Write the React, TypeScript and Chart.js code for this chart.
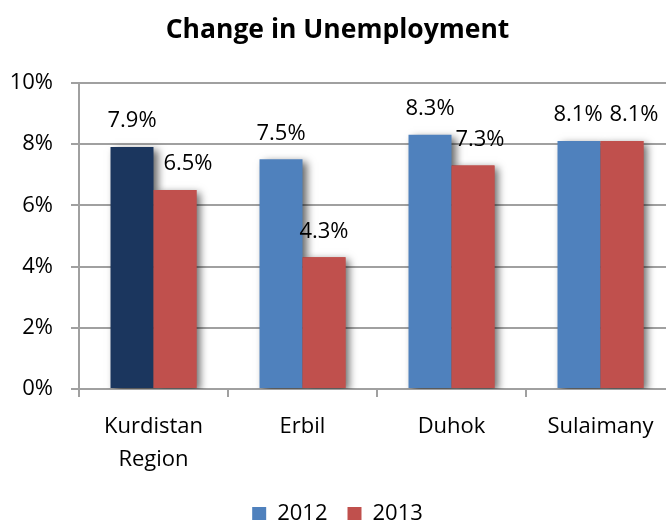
import React, { useEffect, useRef } from "react";
import { Chart, registerables } from "chart.js";

Chart.register(...registerables);

const categories: (string | string[])[] = [["Kurdistan", "Region"], "Erbil", "Duhok", "Sulaimany"];
const series2012: number[] = [7.9, 7.5, 8.3, 8.1];
const series2013: number[] = [6.5, 4.3, 7.3, 8.1];
const seriesNames: string[] = ["2012", "2013"];
const yTickValues: number[] = [0, 2, 4, 6, 8, 10];

const colors2012 = ["#1B365E", "#4F81BD", "#4F81BD", "#4F81BD"];
const color2013 = "#C0504D";
const legendColors = ["#4F81BD", "#C0504D"];
const labelShift2012 = [0, 0, 0, -1];
const labelShift2013 = [13, 0, 7, 12];

const FONT = "'Open Sans', 'DejaVu Sans', sans-serif";

const shadowPlugin = {
  id: "barShadow",
  beforeDatasetDraw(chart: any) {
    const ctx = chart.ctx;
    ctx.save();
    ctx.shadowColor = "rgba(0,0,0,0.6)";
    ctx.shadowBlur = 8;
    ctx.shadowOffsetX = 4;
    ctx.shadowOffsetY = 3;
  },
  afterDatasetDraw(chart: any) {
    chart.ctx.restore();
  },
  afterDatasetsDraw(chart: any) {
    // redraw the 2013 bars on top so the 2012 shadow does not fall on them
    const meta = chart.getDatasetMeta(1);
    const ctx = chart.ctx;
    ctx.save();
    meta.data.forEach((el: any) => el.draw(ctx, chart.chartArea));
    ctx.restore();
  },
};

const labelPlugin = {
  id: "valueLabels",
  afterDatasetsDraw(chart: any) {
    const ctx = chart.ctx;
    ctx.save();
    ctx.font = `22px ${FONT}`;
    ctx.fillStyle = "#000";
    ctx.textAlign = "center";
    ctx.textBaseline = "middle";
    chart.data.datasets.forEach((ds: any, di: number) => {
      const meta = chart.getDatasetMeta(di);
      meta.data.forEach((el: any, i: number) => {
        const v = ds.data[i] as number;
        const shift = di === 1 ? labelShift2013[i] : labelShift2012[i];
        ctx.fillText(`${v.toFixed(1)}%`, el.x + shift, el.y - 26);
      });
    });
    ctx.restore();
  },
};

export default function App() {
  const ref = useRef<HTMLCanvasElement | null>(null);
  useEffect(() => {
    if (!ref.current) return;
    const chart = new Chart(ref.current, {
      type: "bar",
      data: {
        labels: categories,
        datasets: [
          {
            label: seriesNames[0],
            data: series2012,
            backgroundColor: colors2012,
          },
          {
            label: seriesNames[1],
            data: series2013,
            backgroundColor: color2013,
          },
        ],
      },
      options: {
        responsive: false,
        animation: false,
        layout: { padding: { left: 0, right: 38, top: 0, bottom: -15 } },
        datasets: {
          bar: { barPercentage: 1, categoryPercentage: 0.577 },
        },
        plugins: {
          title: {
            display: true,
            text: "Change in Unemployment",
            color: "#000",
            font: { family: FONT, size: 26.5, weight: "bold" },
            padding: { top: 15, bottom: 36 },
          },
          legend: {
            position: "bottom",
            labels: {
              boxWidth: 14,
              boxHeight: 14,
              padding: 20,
              color: "#000",
              font: { family: FONT, size: 22 },
              generateLabels(chart: any) {
                const items = Chart.defaults.plugins.legend.labels.generateLabels(chart);
                return items.map((it: any, i: number) => ({
                  ...it,
                  fillStyle: legendColors[i],
                  strokeStyle: legendColors[i],
                  lineWidth: 0,
                }));
              },
            },
          },
          tooltip: { enabled: false },
        },
        scales: {
          x: {
            afterFit(scale: any) {
              scale.height = scale.height - 6;
            },
            grid: {
              display: true,
              drawOnChartArea: false,
              drawTicks: true,
              tickLength: 8,
              color: "#A0A0A0",
              lineWidth: 2,
            },
            border: { color: "#A0A0A0", width: 2 },
            ticks: {
              color: "#000",
              padding: 13,
              font: { family: FONT, size: 22, lineHeight: 1.5 },
              maxRotation: 0,
            },
          },
          y: {
            min: 0,
            max: 10,
            afterFit(scale: any) {
              scale.width = 79;
            },
            afterBuildTicks(scale: any) {
              scale.ticks = yTickValues.map((v) => ({ value: v }));
            },
            grid: {
              color: "#A0A0A0",
              lineWidth: 2,
              drawTicks: true,
              tickLength: 8,
            },
            border: { color: "#A0A0A0", width: 2 },
            ticks: {
              color: "#000",
              padding: 18,
              font: { family: FONT, size: 22 },
              callback: (v: any) => `${v}%`,
            },
          },
        },
      },
      plugins: [shadowPlugin, labelPlugin],
    });
    return () => chart.destroy();
  }, []);
  return (
    <div
      style={{
        position: "absolute",
        left: 0,
        top: 0,
        width: 666,
        height: 520,
        overflow: "hidden",
        background: "#fff",
      }}
    >
      <canvas ref={ref} width={713} height={520} style={{ display: "block" }} />
    </div>
  );
}
